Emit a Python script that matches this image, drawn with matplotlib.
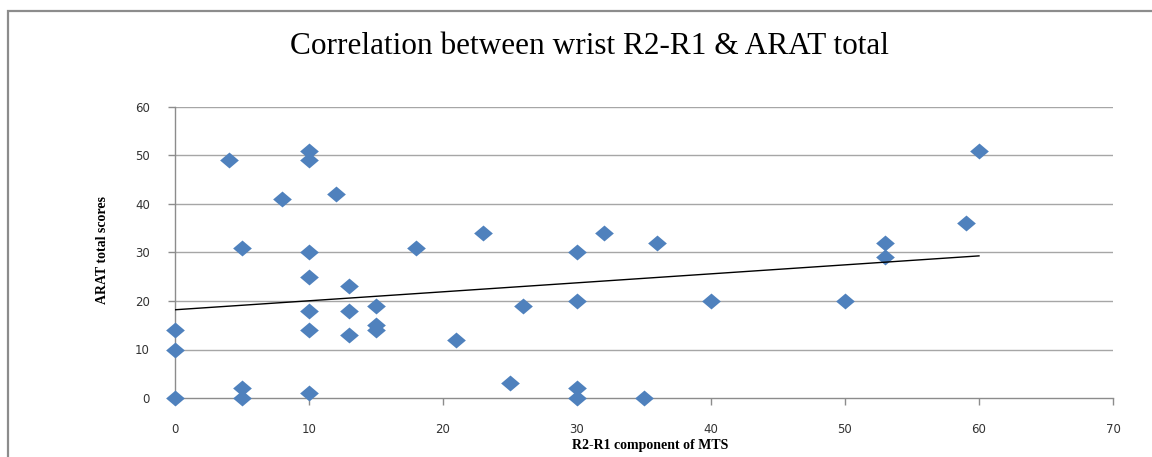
import numpy as np
import matplotlib
matplotlib.use("Agg")
import matplotlib.pyplot as plt
from matplotlib.path import Path
from matplotlib.patches import Rectangle

# Data
x_vals = [0, 0, 0, 4, 5, 5, 5, 8, 10, 10, 10, 10, 10, 10, 10, 12, 13, 13, 13,
          15, 15, 15, 18, 21, 23, 25, 26, 30, 30, 30, 30, 32, 35, 36, 40, 50,
          53, 53, 59, 60]
y_vals = [14, 10, 0, 49, 31, 2, 0, 41, 51, 49, 30, 25, 18, 14, 1, 42, 23, 18, 13,
          19, 15, 14, 31, 12, 34, 3, 19, 30, 20, 2, 0, 34, 0, 32, 20, 20,
          32, 29, 36, 51]
x_ticks = [0, 10, 20, 30, 40, 50, 60, 70]
y_ticks = [0, 10, 20, 30, 40, 50, 60]

title = "Correlation between wrist R2-R1 & ARAT total"
xlabel = "R2-R1 component of MTS"
ylabel = "ARAT total scores"

W, H = 1152, 457
fig = plt.figure(figsize=(W / 100, H / 100), dpi=100)
fig.patch.set_facecolor("white")

# chart frame
fig.patches.append(Rectangle((8 / W, -0.1), 1.2, 1 - 11 / H + 0.1,
                             transform=fig.transFigure, fill=False,
                             edgecolor="#8c8c8c", linewidth=1.6))

ax = fig.add_axes([175 / W, 1 - 398 / H, (1113 - 175) / W, (398 - 107) / H])
ax.set_xlim(0, 70)
ax.set_ylim(0, 60)

grid_c = "#a6a6a6"
for yv in y_ticks[1:]:
    ax.axhline(yv, color=grid_c, linewidth=1.0, zorder=1)

for s in ["top", "right"]:
    ax.spines[s].set_visible(False)
for s in ["left", "bottom"]:
    ax.spines[s].set_color("#8c8c8c")
    ax.spines[s].set_linewidth(1.0)

ax.set_xticks(x_ticks)
ax.set_yticks(y_ticks)
ax.tick_params(axis="both", direction="out", length=5, width=1.0,
               color="#8c8c8c", labelsize=8.5, labelcolor="#333333")
ax.tick_params(axis="x", pad=13)
ax.tick_params(axis="y", pad=13)
for lbl in ax.get_xticklabels() + ax.get_yticklabels():
    lbl.set_family("DejaVu Sans")

# diamond marker
diamond = Path([(1, 0), (0, 0.85), (-1, 0), (0, -0.85), (1, 0)],
               [Path.MOVETO, Path.LINETO, Path.LINETO, Path.LINETO, Path.CLOSEPOLY])
ax.plot(x_vals, y_vals, linestyle="none", marker=diamond, markersize=13.5,
        color="#4f81bd", markeredgewidth=0, zorder=3, clip_on=False)

# linear trendline
xa = np.array(x_vals, dtype=float)
ya = np.array(y_vals, dtype=float)
m, b = np.polyfit(xa, ya, 1)
xt = np.array([xa.min(), xa.max()])
ax.plot(xt, m * xt + b, color="black", linewidth=1.0, zorder=4)

fig.text(589 / W, 1 - 47 / H, title, ha="center", va="center",
         family="Liberation Serif", fontsize=22.5)
fig.text(650 / W, 1 - 445 / H, xlabel, ha="center", va="center",
         family="Liberation Serif", fontsize=10, fontweight="bold")
fig.text(103 / W, 1 - 250 / H, ylabel, ha="center", va="center", rotation=90,
         family="Liberation Serif", fontsize=10, fontweight="bold")

fig.savefig("out.png", dpi=100, facecolor="white")
